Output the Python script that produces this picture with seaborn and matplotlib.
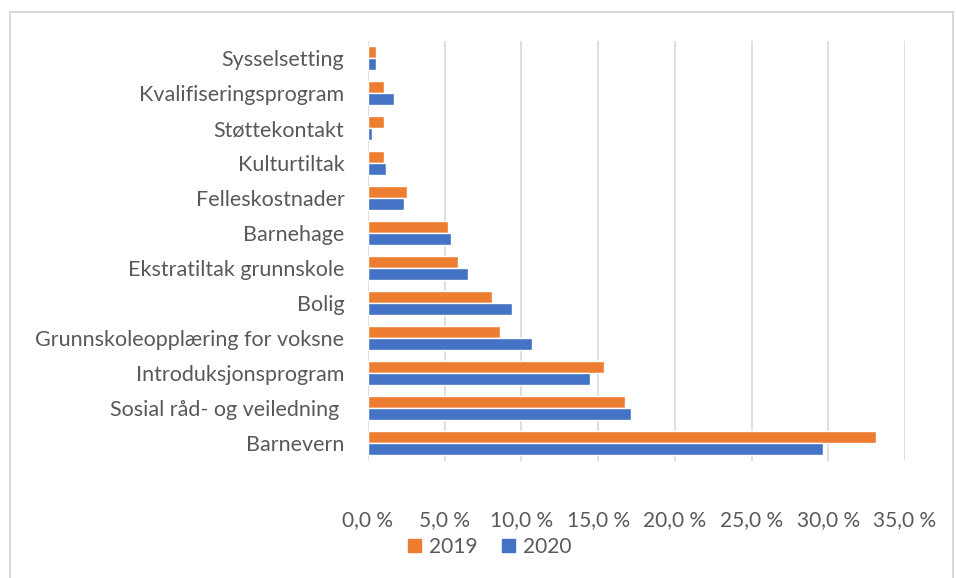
import numpy as np
import pandas as pd
import matplotlib.pyplot as plt
import seaborn as sns
from matplotlib.patches import Rectangle

categories = [
    "Sysselsetting",
    "Kvalifiseringsprogram",
    "Støttekontakt",
    "Kulturtiltak",
    "Felleskostnader",
    "Barnehage",
    "Ekstratiltak grunnskole",
    "Bolig",
    "Grunnskoleopplæring for voksne",
    "Introduksjonsprogram",
    "Sosial råd- og veiledning ",
    "Barnevern",
]
share_2019 = [0.52, 1.07, 1.07, 1.07, 2.54, 5.24, 5.89, 8.08, 8.6, 15.36, 16.78, 33.11]
share_2020 = [0.52, 1.7, 0.26, 1.2, 2.36, 5.4, 6.54, 9.37, 10.69, 14.44, 17.15, 29.63]
years = ["2019", "2020"]
x_ticks = [0, 5, 10, 15, 20, 25, 30, 35]

sns.set_style("white")
plt.rcParams["font.family"] = ["Lato", "DejaVu Sans"]

text_color = "#595959"
palette = {"2019": "#ED7D31", "2020": "#4472C4"}

df = pd.DataFrame(
    {
        "kategori": categories * 2,
        "andel": share_2019 + share_2020,
        "år": [years[0]] * len(categories) + [years[1]] * len(categories),
    }
)

fig = plt.figure(figsize=(9.56, 5.78), dpi=100)
ax = fig.add_axes([368 / 956, 1 - 460.5 / 578, (905 - 368) / 956, (460.5 - 40.5) / 578])

sns.barplot(
    data=df,
    x="andel",
    y="kategori",
    hue="år",
    hue_order=years,
    order=categories,
    palette=palette,
    width=0.7,
    saturation=1,
    ax=ax,
    legend=False,
)

ax.set_xlim(0, 35)
ax.set_xticks(x_ticks)
ax.set_xticklabels([f"{t:.1f} %".replace(".", ",") for t in x_ticks], fontsize=15, color=text_color)
ax.tick_params(axis="x", length=0, pad=36)
ax.tick_params(axis="y", length=0, pad=17, labelsize=15.5, labelcolor=text_color)
ax.grid(axis="x", color="#d9d9d9", linewidth=1.2)
ax.set_axisbelow(True)
for side in ["top", "right", "bottom", "left"]:
    ax.spines[side].set_visible(False)
ax.set_xlabel("")
ax.set_ylabel("")

handles = [Rectangle((0, 0), 1, 1, color=palette[y]) for y in years]
fig.legend(
    handles,
    years,
    loc="center",
    bbox_to_anchor=(490 / 956, 1 - 547 / 578),
    ncol=2,
    frameon=False,
    fontsize=15,
    labelcolor=text_color,
    handlelength=0.6,
    handleheight=0.6,
    handletextpad=0.4,
    columnspacing=1.2,
)

# thin frame around the chart, like the source screenshot
fig.patches.append(
    Rectangle(
        (10 / 956, -0.01),
        (953 - 10) / 956,
        1 - 12 / 578 + 0.01,
        transform=fig.transFigure,
        fill=False,
        edgecolor="#d9d9d9",
        linewidth=1.5,
    )
)

fig.savefig("out.png", dpi=100)
